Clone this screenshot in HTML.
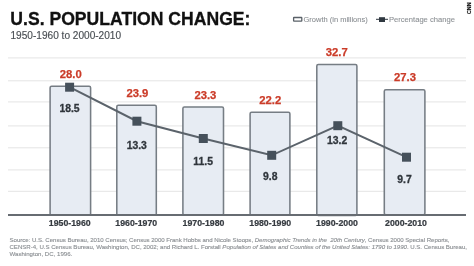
<!DOCTYPE html>
<html><head><meta charset="utf-8">
<style>
html,body{margin:0;padding:0;background:#fff;width:474px;height:266px;overflow:hidden}
svg{display:block;will-change:transform}
text{font-family:"Liberation Sans",sans-serif}
</style></head>
<body>
<svg width="474" height="266" viewBox="0 0 474 266">
<!-- title -->
<text x="10.3" y="25.4" font-size="17.6" font-weight="bold" fill="#111" stroke="#111" stroke-width="0.3">U.S. POPULATION CHANGE:</text>
<text x="10.5" y="38.7" font-size="10.1" fill="#4a4f54" stroke="#4a4f54" stroke-width="0.15">1950-1960 to 2000-2010</text>

<!-- legend -->
<rect x="293.6" y="17.5" width="8.2" height="3.6" rx="0.4" fill="#fff" stroke="#5a6168" stroke-width="1.3"/>
<text x="303.5" y="21.5" font-size="7.5" fill="#8c9094" stroke="#8c9094" stroke-width="0.1">Growth (in millions)</text>
<line x1="376" y1="19.3" x2="388" y2="19.3" stroke="#2f3840" stroke-width="1"/>
<rect x="379" y="17.2" width="6" height="4.8" fill="#2f3840"/>
<text x="389" y="21.5" font-size="7.6" fill="#8c9094" stroke="#8c9094" stroke-width="0.1">Percentage change</text>

<!-- CNN -->
<text transform="translate(470.6,14.1) rotate(-90) scale(1,0.85)" font-size="5.4" font-weight="bold" fill="#111" stroke="#111" stroke-width="0.2">CNN</text>

<!-- grid -->
<g fill="#e4e4e4">
<rect x="8" y="57.4" width="458" height="1"/>
<rect x="8" y="80.3" width="458" height="1"/>
<rect x="8" y="101.4" width="458" height="1"/>
<rect x="8" y="125.4" width="458" height="1"/>
<rect x="8" y="147.3" width="458" height="1"/>
<rect x="8" y="169.4" width="458" height="1"/>
<rect x="8" y="190.8" width="458" height="1"/>
</g>

<!-- bars -->
<g fill="#e7ecf3" stroke="#767d84" stroke-width="1.55">
<rect x="50.1" y="86.2" width="40.5" height="129" rx="1.5"/>
<rect x="116.8" y="105.2" width="39.5" height="110" rx="1.5"/>
<rect x="182.9" y="107" width="40.6" height="108" rx="1.5"/>
<rect x="250.1" y="112.2" width="39.8" height="103" rx="1.5"/>
<rect x="316.8" y="64.5" width="40.1" height="151" rx="1.5"/>
<rect x="384.3" y="89.8" width="40.6" height="125" rx="1.5"/>
</g>

<!-- axis -->
<rect x="8" y="214" width="458" height="2" fill="#676c72"/>

<!-- line -->
<polyline points="69.6,87.2 136.9,121.2 203.3,138.5 271.7,155.3 337.8,125.7 406.5,157.2" fill="none" stroke="#5b636b" stroke-width="2"/>
<g fill="#46515b">
<rect x="65.1" y="82.7" width="9" height="9"/>
<rect x="132.4" y="116.7" width="9" height="9"/>
<rect x="198.8" y="134" width="9" height="9"/>
<rect x="267.2" y="150.8" width="9" height="9"/>
<rect x="333.3" y="121.2" width="9" height="9"/>
<rect x="402" y="152.7" width="9" height="9"/>
</g>

<!-- red labels -->
<g font-size="11.3" font-weight="bold" fill="#cb3c29" stroke="#cb3c29" stroke-width="0.25" text-anchor="middle">
<text x="70.7" y="78">28.0</text>
<text x="137.4" y="96.8">23.9</text>
<text x="205.4" y="98.6">23.3</text>
<text x="270.2" y="103.5">22.2</text>
<text x="336.7" y="56">32.7</text>
<text x="405" y="81">27.3</text>
</g>

<!-- inner values -->
<g font-size="10.4" font-weight="bold" fill="#30363c" stroke="#30363c" stroke-width="0.3" text-anchor="middle">
<text x="69.5" y="111.9">18.5</text>
<text x="136.8" y="149.1">13.3</text>
<text x="203.2" y="165.2">11.5</text>
<text x="270.2" y="180.3">9.8</text>
<text x="337.1" y="143.8">13.2</text>
<text x="404.5" y="182.7">9.7</text>
</g>

<!-- x labels -->
<g font-size="8.75" font-weight="bold" fill="#363b41" stroke="#363b41" stroke-width="0.22" text-anchor="middle">
<text x="69.8" y="226">1950-1960</text>
<text x="136.3" y="226">1960-1970</text>
<text x="203.5" y="226">1970-1980</text>
<text x="270.2" y="226">1980-1990</text>
<text x="337" y="226">1990-2000</text>
<text x="406" y="226">2000-2010</text>
</g>

<!-- source -->
<g font-size="6.1" fill="#8a8e92" stroke="#8a8e92" stroke-width="0.12">
<text x="9.5" y="242" textLength="440" lengthAdjust="spacing">Source: U.S. Census Bureau, 2010 Census; Census 2000 Frank Hobbs and Nicole Stoops, <tspan font-style="italic">Demographic Trends in the&#160; 20th Century</tspan>, Census 2000 Special Reports,</text>
<text x="9.5" y="248.8" textLength="457.5" lengthAdjust="spacing">CENSR-4, U.S Census Bureau, Washington, DC, 2002; and Richard L. Forstall <tspan font-style="italic">Population of States and Counties of the United States: 1790 to 1990</tspan>. U.S. Census Bureau,</text>
<text x="9.5" y="255.7">Washington, DC, 1996.</text>
</g>
</svg>
</body></html>
